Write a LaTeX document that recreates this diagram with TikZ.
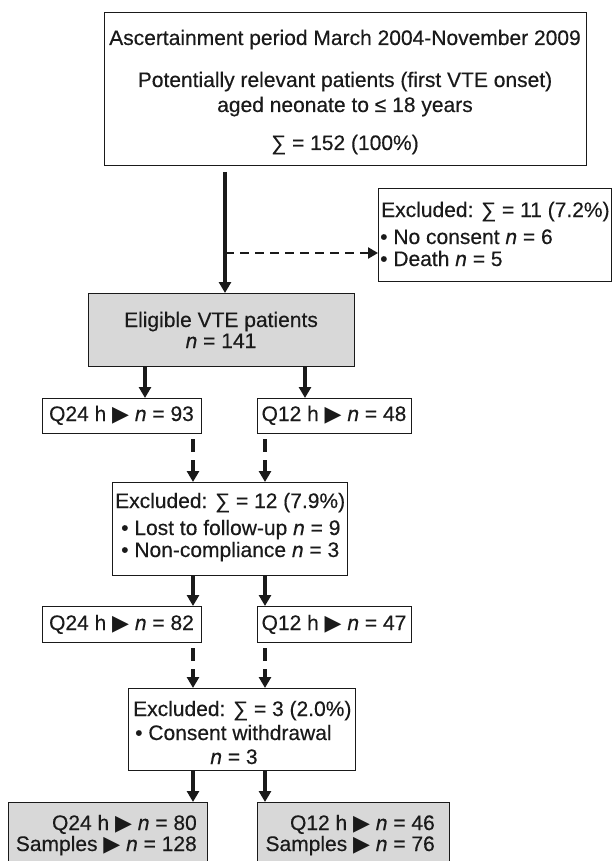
\documentclass[tikz,border=0pt]{standalone}
\usepackage{fontspec}
\setmainfont{Liberation Sans}[FakeBold=0.35]
\newfontfamily\dvs{DejaVu Sans}
\usetikzlibrary{arrows.meta}
\newcommand{\tri}{{\dvs\fontsize{22}{22}\selectfont ▶}}
\newcommand{\nn}{\textit{n}}
\definecolor{ink}{HTML}{1A1A1A}
\definecolor{boxgray}{HTML}{D8D8D8}
\tikzset{
  box/.style={draw=ink, line width=1.2pt, inner sep=0pt, anchor=north west, fill=white},
  graybox/.style={box, fill=boxgray},
  txt/.style={inner sep=0pt, font=\fontsize{21}{24}\selectfont, text=ink},
  arr/.style={draw=ink, line width=3.2pt, -{Triangle[width=12pt,length=11pt]}},
  darr/.style={draw=ink, line width=3.8pt, dash pattern=on 13pt off 8pt, dash phase=16pt, -{Triangle[width=12pt,length=11pt]}},
  harr/.style={draw=ink, line width=2.6pt, dash pattern=on 9pt off 6pt, -{Triangle[width=11pt,length=10pt]}}
}
\begin{document}
\begin{tikzpicture}[x=1pt,y=-1pt]
\useasboundingbox (0,0) rectangle (612,861);
% boxes
\node[box, minimum width=482pt, minimum height=153.3pt] (top) at (104,11.7) {};
\node[box, minimum width=233pt, minimum height=93pt] (excl1) at (378,188) {};
\node[graybox, minimum width=266pt, minimum height=73pt] (elig) at (88,293) {};
\node[box, minimum width=159pt, minimum height=35pt] (q24a) at (42,398) {};
\node[box, minimum width=154pt, minimum height=35pt] (q12a) at (257,398) {};
\node[box, minimum width=235pt, minimum height=93pt] (excl2) at (111.5,482) {};
\node[box, minimum width=159pt, minimum height=36pt] (q24b) at (42,606) {};
\node[box, minimum width=154pt, minimum height=36pt] (q12b) at (257,606) {};
\node[box, minimum width=226.5pt, minimum height=82pt] (excl3) at (128,688) {};
\node[graybox, minimum width=199pt, minimum height=70pt] (fin24) at (8,802) {};
\node[graybox, minimum width=192pt, minimum height=70pt] (fin12) at (257,802) {};
% texts
\node[txt, anchor=base] (t1) at (345,45) {Ascertainment period March 2004-November 2009};
\node[txt, anchor=base] (t2) at (345,87) {Potentially relevant patients (first VTE onset)};
\node[txt, anchor=base] (t3) at (345,112) {aged neonate to ≤ 18 years};
\node[txt, anchor=base] (t4) at (345,150) {∑ = 152 (100\%)};
\node[txt, anchor=base west] (e1a) at (381,217) {Excluded: ∑ = 11 (7.2\%)};
\node[txt, anchor=base west] (e1b) at (380,244) {• No consent \nn{} = 6};
\node[txt, anchor=base west] (e1c) at (380,266) {• Death \nn{} = 5};
\node[txt, anchor=base] (el1) at (221,327) {Eligible VTE patients};
\node[txt, anchor=base] (el2) at (221,348) {\nn{} = 141};
\node[txt, anchor=base] (qa1) at (121.5,421) {Q24 h \tri{} \nn{} = 93};
\node[txt, anchor=base] (qa2) at (334,421) {Q12 h \tri{} \nn{} = 48};
\node[txt, anchor=base west] (e2a) at (115,508) {Excluded: ∑ = 12 (7.9\%)};
\node[txt, anchor=base west] (e2b) at (121,535) {• Lost to follow-up \nn{} = 9};
\node[txt, anchor=base west] (e2c) at (121,557) {• Non-compliance \nn{} = 3};
\node[txt, anchor=base] (qb1) at (121.5,630) {Q24 h \tri{} \nn{} = 82};
\node[txt, anchor=base] (qb2) at (334,630) {Q12 h \tri{} \nn{} = 47};
\node[txt, anchor=base west] (e3a) at (133,716) {Excluded: ∑ = 3 (2.0\%)};
\node[txt, anchor=base west] (e3b) at (135,740) {• Consent withdrawal};
\node[txt, anchor=base] (e3c) at (234,764) {\nn{} = 3};
\node[txt, anchor=base east] (f1a) at (197,830) {Q24 h \tri{} \nn{} = 80};
\node[txt, anchor=base east] (f1b) at (197,851) {Samples \tri{} \nn{} = 128};
\node[txt, anchor=base east] (f2a) at (435,830) {Q12 h \tri{} \nn{} = 46};
\node[txt, anchor=base east] (f2b) at (435,851) {Samples \tri{} \nn{} = 76};
% connectors
\coordinate (vstart) at (225,172);
\coordinate (branch) at (225,253);
\coordinate (xa) at (145,0);
\coordinate (xb) at (305,0);
\coordinate (xc) at (193,0);
\coordinate (xd) at (265,0);
\draw[arr] (vstart) -- (elig.north -| vstart);
\draw[harr] (branch) -- (excl1.west |- branch);
\draw[arr] (elig.south -| xa) -- (q24a.north -| xa);
\draw[arr] (elig.south -| xb) -- (q12a.north -| xb);
\draw[darr] (q24a.south -| xc) -- (excl2.north -| xc);
\draw[darr] (q12a.south -| xd) -- (excl2.north -| xd);
\draw[arr] (excl2.south -| xc) -- (q24b.north -| xc);
\draw[arr] (excl2.south -| xd) -- (q12b.north -| xd);
\draw[darr] (q24b.south -| xc) -- (excl3.north -| xc);
\draw[darr] (q12b.south -| xd) -- (excl3.north -| xd);
\draw[arr] (excl3.south -| xc) -- (fin24.north -| xc);
\draw[arr] (excl3.south -| xd) -- (fin12.north -| xd);
\end{tikzpicture}
\end{document}
